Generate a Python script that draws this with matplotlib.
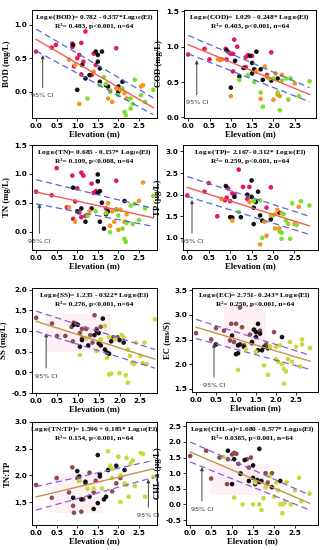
import numpy as np
import matplotlib.pyplot as plt

plt.rcParams['mathtext.fontset'] = 'custom'
plt.rcParams['mathtext.rm'] = 'Liberation Serif:bold'
plt.rcParams['mathtext.bf'] = 'Liberation Serif:bold'
plt.rcParams['mathtext.it'] = 'Liberation Serif:bold:italic'
plt.rcParams['mathtext.default'] = 'rm'

# point colours: top four panels, bottom four panels
RED, BLACK, ORANGE, GREEN = "#e3195a", "#111111", "#f7941d", "#7ddf2c"
BROWN, YGREEN = "#8f4a52", "#c6da3a"

# ---- BOD ----
bod_red = [(0.0, 0.60), (0.38, 0.66), (0.48, 0.70), (0.88, 0.72), (0.88, 0.67), (0.92, 0.38), (1.0, 0.50),
           (1.05, 0.55), (1.1, 0.73), (1.1, 0.26), (1.15, 0.45), (1.2, 0.90), (1.4, 0.57), (1.45, 0.40),
           (1.95, 0.65), (1.35, 0.25)]
bod_black = [(0.9, 0.70), (1.0, 0.03), (1.12, 0.40), (1.2, 0.20), (1.3, 0.25), (1.45, 0.60), (1.5, 0.55),
             (1.5, 0.45), (1.55, 0.35), (1.6, 0.60), (1.55, 0.15), (1.7, 0.10), (1.75, 0.08), (2.0, 0.08),
             (2.1, 0.15), (2.0, 0.0)]
bod_orange = [(0.8, 0.48), (0.95, 0.40), (1.05, -0.18), (1.8, 0.02), (1.85, -0.15), (1.95, 0.05), (2.05, 0.03),
              (2.15, -0.02), (2.2, -0.1), (2.55, 0.08), (2.6, 0.10), (1.75, -0.10), (1.4, 0.30)]
bod_green = [(1.25, -0.10), (1.65, 0.22), (1.55, 0.10), (1.7, 0.12), (1.8, 0.0), (2.0, -0.05), (2.15, -0.30),
             (2.18, -0.35), (2.3, -0.25), (2.35, -0.18), (2.4, 0.18), (2.55, -0.05), (2.65, -0.15),
             (2.85, 0.03), (2.1, 0.05), (2.3, -0.1)]
bod_fit = (0.782, -0.357)
bod_ci = [(0.935, -0.360), (0.61, -0.333)]

# ---- COD ----
cod_red = [(0.0, 0.89), (0.38, 0.97), (0.5, 0.82), (0.88, 0.97), (0.9, 0.82), (0.95, 0.92), (1.0, 0.90),
           (1.05, 0.90), (1.08, 1.10), (1.15, 1.00), (1.05, 0.65), (1.35, 0.85), (1.4, 0.88), (1.5, 0.87),
           (1.95, 0.92), (1.85, 0.60), (1.35, 0.71), (0.75, 0.82)]
cod_black = [(0.9, 0.95), (1.0, 0.42), (1.1, 0.80), (1.2, 0.58), (1.3, 0.70), (1.45, 0.87), (1.5, 0.77),
             (1.55, 0.68), (1.6, 0.93), (1.7, 0.68), (1.75, 0.53), (1.95, 0.52), (2.1, 0.55), (1.5, 0.62)]
cod_orange = [(0.7, 0.82), (0.8, 0.82), (1.0, 0.30), (1.7, 0.26), (1.8, 0.72), (1.85, 0.57), (2.0, 0.25),
              (2.05, 0.62), (2.1, 0.32), (2.2, 0.60), (2.5, 0.48), (2.15, 0.30), (1.6, 0.65)]
cod_green = [(1.2, 0.53), (1.4, 0.60), (1.55, 0.50), (1.7, 0.35), (1.75, 0.15), (1.9, 0.55), (2.1, 0.35),
             (2.15, 0.10), (2.2, 0.52), (2.3, 0.55), (2.35, 0.25), (2.4, 0.55), (2.6, 0.30), (2.85, 0.51),
             (2.0, 0.55)]
cod_fit = (1.029, -0.248)
cod_ci = [(1.16, -0.260), (0.90, -0.239)]

# ---- TN ----
tn_red = [(0.0, 0.69), (0.38, 0.63), (0.5, 1.10), (0.75, 0.42), (0.88, 0.97), (0.9, 0.22), (0.95, 0.52),
          (1.0, 0.75), (1.05, 0.33), (1.1, 1.02), (1.1, 0.25), (1.15, 0.97), (1.2, 0.27), (1.35, 0.83),
          (1.4, 0.67), (1.45, 0.70), (1.95, 0.88), (1.7, 0.40)]
tn_black = [(0.9, 0.76), (1.0, 0.35), (1.1, 0.40), (1.2, 0.17), (1.35, 0.40), (1.5, 0.99), (1.5, 0.87),
            (1.5, 0.67), (1.55, 0.70), (1.55, 0.17), (1.65, 0.05), (1.7, 0.30), (1.75, 0.35), (1.95, 0.38),
            (2.15, 0.53), (1.6, 0.50)]
tn_orange = [(0.8, 0.42), (0.95, 0.17), (1.3, 0.35), (1.75, 0.49), (1.85, 0.35), (1.9, 0.17), (2.0, 0.03),
             (2.05, 0.38), (2.15, 0.17), (2.2, 0.30), (2.5, 0.53), (2.6, 0.85), (1.8, 0.10)]
tn_green = [(1.25, 0.27), (1.45, 0.35), (1.7, 0.32), (1.8, -0.01), (1.95, 0.38), (2.1, 0.05), (2.15, -0.13),
            (2.18, -0.18), (2.2, 0.15), (2.3, 0.45), (2.35, 0.13), (2.4, 0.48), (2.5, 0.20), (2.65, 0.40),
            (2.85, 0.62), (2.0, 0.28)]
tn_fit = (0.685, -0.157)
tn_ci = [(0.90, -0.175), (0.48, -0.137)]

# ---- TP ----
tp_red = [(0.0, 1.98), (0.4, 2.07), (0.5, 2.27), (0.7, 1.50), (0.88, 1.87), (0.92, 1.93), (0.95, 2.15),
          (1.0, 1.85), (1.05, 2.03), (1.1, 2.00), (1.2, 2.58), (1.3, 2.18), (1.4, 1.90), (1.45, 2.18),
          (1.95, 2.17), (1.85, 1.70)]
tp_black = [(0.9, 2.20), (1.0, 1.48), (1.05, 1.47), (1.1, 1.95), (1.25, 1.48), (1.4, 2.00), (1.5, 2.33),
            (1.5, 1.95), (1.55, 1.70), (1.6, 1.83), (1.55, 1.32), (1.65, 2.07), (1.7, 1.52), (1.75, 1.40),
            (1.95, 1.43), (2.15, 1.58)]
tp_orange = [(0.8, 1.90), (1.05, 1.40), (1.45, 1.83), (1.7, 0.85), (1.8, 1.37), (1.85, 1.05), (1.95, 1.52),
             (2.05, 1.22), (2.1, 1.65), (2.15, 1.22), (2.2, 1.57), (2.5, 1.32), (2.6, 1.72), (2.05, 1.55)]
tp_green = [(1.2, 1.60), (1.55, 1.85), (1.7, 1.87), (1.75, 1.00), (2.0, 1.52), (2.15, 1.15), (2.2, 0.98),
            (2.25, 1.55), (2.3, 1.40), (2.35, 1.33), (2.4, 0.98), (2.45, 1.80), (2.55, 1.30), (2.65, 1.85),
            (2.85, 1.75), (2.2, 1.12)]
tp_fit = (2.167, -0.312)
tp_ci = [(2.42, -0.323), (1.96, -0.309)]

# ---- SS ----
ss_brown = [(0.0, 1.32), (0.38, 1.18), (0.5, 0.88), (0.7, 0.88), (0.85, 1.10), (0.88, 0.75), (0.9, 1.20),
            (0.95, 1.18), (1.05, 0.95), (1.1, 0.82), (1.1, 1.05), (1.2, 1.05), (1.3, 0.90), (1.35, 0.72),
            (1.4, 1.38), (1.45, 1.05), (1.95, 0.85), (1.85, 0.85), (1.55, 1.10)]
ss_black = [(0.9, 1.15), (1.0, 1.15), (1.05, 0.62), (1.1, 0.78), (1.25, 0.65), (1.4, 0.90), (1.5, 0.95),
            (1.5, 0.70), (1.55, 0.65), (1.6, 1.30), (1.65, 0.55), (1.7, 0.48), (1.75, 0.45), (1.8, 0.75),
            (2.0, 0.78), (2.1, 0.72), (1.45, 1.00)]
ss_ygreen = [(1.05, 0.42), (1.2, 0.82), (1.45, 0.52), (1.65, 1.12), (1.7, 0.35), (1.75, 0.85), (1.75, -0.05),
             (1.8, -0.03), (2.0, -0.02), (2.05, 0.90), (2.1, 0.85), (2.15, -0.07), (2.2, -0.25), (2.2, 0.55),
             (2.25, 0.40), (2.3, 0.23), (2.35, 0.20), (2.4, 0.72), (2.5, 0.40), (2.55, 0.22), (2.6, 0.72),
             (2.65, 0.20), (2.85, 1.28), (1.55, 0.80), (1.9, 0.80)]
ss_fit = (1.235, -0.322)
ss_ci = [(1.48, -0.326), (0.99, -0.312)]

# ---- EC ----
ec_brown = [(0.0, 2.63), (0.38, 2.50), (0.5, 2.73), (0.7, 2.68), (0.85, 2.48), (0.88, 2.82), (0.95, 2.45),
            (1.0, 2.82), (1.1, 3.15), (1.15, 2.75), (1.2, 2.38), (1.35, 2.60), (1.4, 2.42), (1.45, 2.70),
            (1.6, 2.68), (1.85, 2.35), (1.95, 2.65), (1.75, 2.40)]
ec_black = [(0.5, 2.40), (0.9, 2.58), (1.0, 2.20), (1.05, 2.38), (1.05, 2.22), (1.1, 2.40), (1.2, 2.35),
            (1.4, 2.45), (1.45, 2.70), (1.5, 2.65), (1.55, 2.82), (1.6, 2.62), (1.55, 2.28), (1.65, 2.28),
            (1.7, 2.35), (1.8, 2.32), (2.15, 2.55), (1.5, 2.55)]
ec_ygreen = [(1.05, 1.88), (1.25, 2.30), (1.5, 2.25), (1.7, 1.97), (1.8, 1.78), (1.85, 2.35), (2.0, 2.10),
             (2.05, 2.05), (2.1, 2.38), (2.15, 2.00), (2.2, 1.60), (2.2, 1.90), (2.25, 1.85), (2.3, 2.10),
             (2.35, 2.45), (2.4, 2.05), (2.5, 2.35), (2.6, 1.95), (2.65, 2.50), (2.65, 2.40), (2.85, 2.33),
             (2.0, 2.35)]
ec_fit = (2.751, -0.243)
ec_ci = [(2.91, -0.256), (2.52, -0.221)]

# ---- TN:TP ----
ratio_brown = [(0.0, 1.82), (0.38, 1.58), (0.5, 1.95), (0.8, 1.68), (0.88, 2.15), (0.9, 1.43), (0.92, 1.30),
               (1.0, 1.95), (1.05, 1.90), (1.1, 1.32), (1.15, 1.55), (1.2, 1.85), (1.3, 2.05), (1.4, 1.68),
               (1.45, 1.90), (1.95, 1.85), (2.05, 1.95), (1.85, 1.70)]
ratio_black = [(0.9, 1.58), (1.0, 2.08), (1.05, 1.98), (1.1, 1.55), (1.2, 1.88), (1.3, 1.60), (1.4, 1.37),
               (1.5, 2.38), (1.5, 1.48), (1.55, 1.98), (1.55, 2.02), (1.65, 1.55), (1.7, 1.60), (1.75, 2.10),
               (1.95, 2.18), (2.15, 2.10)]
ratio_ygreen = [(1.05, 1.90), (1.25, 1.75), (1.4, 1.75), (1.75, 2.45), (1.8, 2.18), (1.85, 2.12), (1.85, 1.95),
                (2.0, 2.35), (2.05, 1.50), (2.05, 2.00), (2.15, 1.85), (2.2, 2.33), (2.2, 1.82), (2.25, 1.60),
                (2.3, 2.22), (2.35, 2.28), (2.4, 1.80), (2.55, 2.42), (2.6, 2.40), (2.65, 1.60), (2.85, 1.97),
                (1.6, 1.75)]
ratio_fit = (1.596, 0.185)
ratio_ci = [(1.79, 0.172), (1.35, 0.214)]

# ---- CHL-a ----
chl_brown = [(0.0, 1.55), (0.38, 1.72), (0.5, 0.83), (0.7, 1.50), (0.88, 0.65), (0.9, 1.45), (1.0, 1.60),
             (1.05, 1.65), (1.1, 1.62), (1.15, 1.30), (1.2, 1.00), (1.35, 1.45), (1.4, 1.18), (1.45, 1.50),
             (1.8, 1.00), (1.95, 1.00), (1.85, 0.70)]
chl_black = [(0.9, 1.72), (1.0, 0.65), (1.05, 1.45), (1.2, 0.98), (1.3, 1.42), (1.4, 0.75), (1.5, 0.85),
             (1.55, 0.70), (1.55, 0.65), (1.6, 0.78), (1.65, 1.78), (1.65, 0.72), (1.7, 0.75), (1.95, 0.55),
             (2.15, 0.75), (1.5, 1.25)]
chl_ygreen = [(0.8, 1.52), (1.05, 0.22), (1.25, 0.00), (1.5, 0.00), (1.55, 0.70), (1.7, -0.18), (1.75, 0.20),
              (1.8, 0.55), (1.9, 0.90), (2.0, 0.25), (2.05, 0.70), (2.1, 0.45), (2.15, 0.00), (2.2, -0.28),
              (2.2, 0.00), (2.25, 0.05), (2.3, 0.72), (2.4, 0.00), (2.5, 0.45), (2.6, 0.85), (2.65, 0.10),
              (2.85, 0.35), (1.65, 0.00)]
chl_fit = (1.680, -0.577)
chl_ci = [(2.00, -0.596), (1.36, -0.540)]

SERIF = 'Liberation Serif'
fig = plt.figure(figsize=(3.22, 5.5), dpi=100)


def panel(rect, groups, fit, ci, ylim, yticks, ylabel, eq, stats, arrow, xmax, style, shade=None):
    ax = fig.add_axes(rect)
    line_col, ci_col = style
    if shade is not None:
        # faint pink patch behind the central cluster (bottom panels)
        ax.fill_between([shade[0], shade[1]], shade[2], shade[3], color='#fdf1f6', lw=0, zorder=1)
    for pts, col in groups:
        a = np.array(pts)
        ax.scatter(a[:, 0], a[:, 1], s=11, c=col, edgecolors='none', zorder=3)
    xs = np.linspace(0, 2.85, 50)
    ax.plot(xs, fit[0] + fit[1] * xs, color=line_col, lw=1.0, zorder=4)
    for a0, a1 in ci:
        ax.plot(xs, a0 + a1 * xs, color=ci_col, lw=0.9, ls=(0, (5, 3)), zorder=4)
    ax.annotate('95% CI', xy=(arrow[0], arrow[1]), xytext=(arrow[0], arrow[2]),
                ha='center', va='top', fontsize=4.6, color='#333333',
                arrowprops=dict(arrowstyle='-|>', color='#444444', lw=0.7,
                                mutation_scale=5, shrinkA=2, shrinkB=0))
    ax.text(0.5, 0.975, eq + '\n' + stats, transform=ax.transAxes, ha='center', va='top',
            fontsize=5.3, fontweight='bold', family=SERIF, linespacing=1.1, zorder=5)
    ax.set_xlim(-0.1, xmax)
    ax.set_ylim(*ylim)
    ax.set_xticks([0, 0.5, 1.0, 1.5, 2.0, 2.5])
    ax.set_xticklabels(['0.0', '0.5', '1.0', '1.5', '2.0', '2.5'])
    ax.set_yticks(yticks)
    ax.set_yticklabels(['%.1f' % t for t in yticks])
    ax.tick_params(labelsize=5.2, length=2, width=0.6, pad=1.5)
    for lab in ax.get_xticklabels() + ax.get_yticklabels():
        lab.set_fontweight('bold')
    ax.set_xlabel('Elevation (m)', fontsize=6.3, fontweight='bold', family=SERIF, labelpad=1)
    ax.set_ylabel(ylabel, fontsize=6.3, fontweight='bold', family=SERIF, labelpad=2)
    for s in ax.spines.values():
        s.set_linewidth(0.7)
    return ax


W, H = 322.0, 550.0


def rect(x0, x1, y0, y1):
    return [x0 / W, 1 - y1 / H, (x1 - x0) / W, (y1 - y0) / H]


top_style = ('#f25a5a', '#5566dd')
bot_style = ('#c8904a', '#9055e0')

panel(rect(32, 157, 10, 118), [(bod_red, RED), (bod_black, BLACK), (bod_orange, ORANGE), (bod_green, GREEN)],
      bod_fit, bod_ci, (-0.39, 1.22), [0.0, 0.5, 1.0], 'BOD (mg/L)',
      r'Log$_{10}$(BOD)= 0.782 - 0.357*Log$_{10}$(El)', 'R²= 0.483, p<0.001, n=64',
      (0.16, 0.55, -0.02), 2.94, top_style)
panel(rect(184, 316, 10, 118), [(cod_red, RED), (cod_black, BLACK), (cod_orange, ORANGE), (cod_green, GREEN)],
      cod_fit, cod_ci, (-0.01, 1.52), [0.0, 0.5, 1.0, 1.5], 'COD (mg/L)',
      r'Log$_{10}$(COD)= 1.029 - 0.248* Log$_{10}$(El)', 'R²= 0.403, p<0.001, n=64',
      (0.2, 0.81, 0.24), 3.0, top_style)
panel(rect(32, 157, 145, 250), [(tn_red, RED), (tn_black, BLACK), (tn_orange, ORANGE), (tn_green, GREEN)],
      tn_fit, tn_ci, (-0.32, 1.5), [0.0, 0.5, 1.0, 1.5], 'TN (mg/L)',
      r'Log$_{10}$(TN)= 0.685 - 0.157* Log$_{10}$(El)', 'R²= 0.109, p<0.008, n=64',
      (0.08, 0.48, -0.13), 2.94, top_style)
panel(rect(183, 318, 145, 250), [(tp_red, RED), (tp_black, BLACK), (tp_orange, ORANGE), (tp_green, GREEN)],
      tp_fit, tp_ci, (0.72, 3.15), [1.0, 1.5, 2.0, 2.5, 3.0], 'TP (µg/L)',
      r'Log$_{10}$(TP)= 2.167- 0.312* Log$_{10}$(El)', 'R²= 0.259, p<0.001, n=64',
      (0.11, 1.88, 0.98), 3.05, top_style)
panel(rect(32, 157, 288, 393), [(ss_brown, BROWN), (ss_black, BLACK), (ss_ygreen, YGREEN)],
      ss_fit, ss_ci, (-0.5, 2.04), [-0.5, 0.0, 0.5, 1.0, 1.5, 2.0], 'SS (mg/L)',
      r'Log$_{10}$(SS)= 1.235 - 0322* Log$_{10}$(El)', 'R²= 0.276, p<0.001, n=64',
      (0.24, 0.95, -0.03), 2.9, bot_style, shade=(0.2, 1.8, 0.5, 1.4))
panel(rect(192, 318, 288, 392), [(ec_brown, BROWN), (ec_black, BLACK), (ec_ygreen, YGREEN)],
      ec_fit, ec_ci, (1.43, 3.55), [1.5, 2.0, 2.5, 3.0, 3.5], 'EC (ms/S)',
      r'Log$_{10}$(EC)= 2.751- 0.243* Log$_{10}$(El)', 'R²= 0.250, p<0.001, n=64',
      (0.45, 2.42, 1.62), 3.05, bot_style, shade=(0.7, 1.75, 2.3, 3.2))
panel(rect(32, 157, 422, 525), [(ratio_brown, BROWN), (ratio_black, BLACK), (ratio_ygreen, YGREEN)],
      ratio_fit, ratio_ci, (1.07, 3.0), [1.5, 2.0, 2.5, 3.0], 'TN:TP',
      r'Log$_{10}$(TN:TP)= 1.596 + 0.185* Log$_{10}$(El)', 'R²= 0.154, p<0.001, n=64',
      (2.73, 1.93, 1.30), 2.94, bot_style, shade=(0.4, 1.6, 1.3, 2.05))
panel(rect(186, 318, 422, 525), [(chl_brown, BROWN), (chl_black, BLACK), (chl_ygreen, YGREEN)],
      chl_fit, chl_ci, (-0.66, 2.64), [-0.5, 0.0, 0.5, 1.0, 1.5, 2.0, 2.5], 'CHL-a (µg/L)',
      r'Log$_{10}$(CHL-a)=1.680 - 0.577* Log$_{10}$(El)', 'R²= 0.0385, p<0.001, n=64',
      (0.28, 1.2, -0.07), 3.05, bot_style, shade=(0.5, 1.9, 0.3, 1.3))

fig.savefig('out.png', dpi=100)
